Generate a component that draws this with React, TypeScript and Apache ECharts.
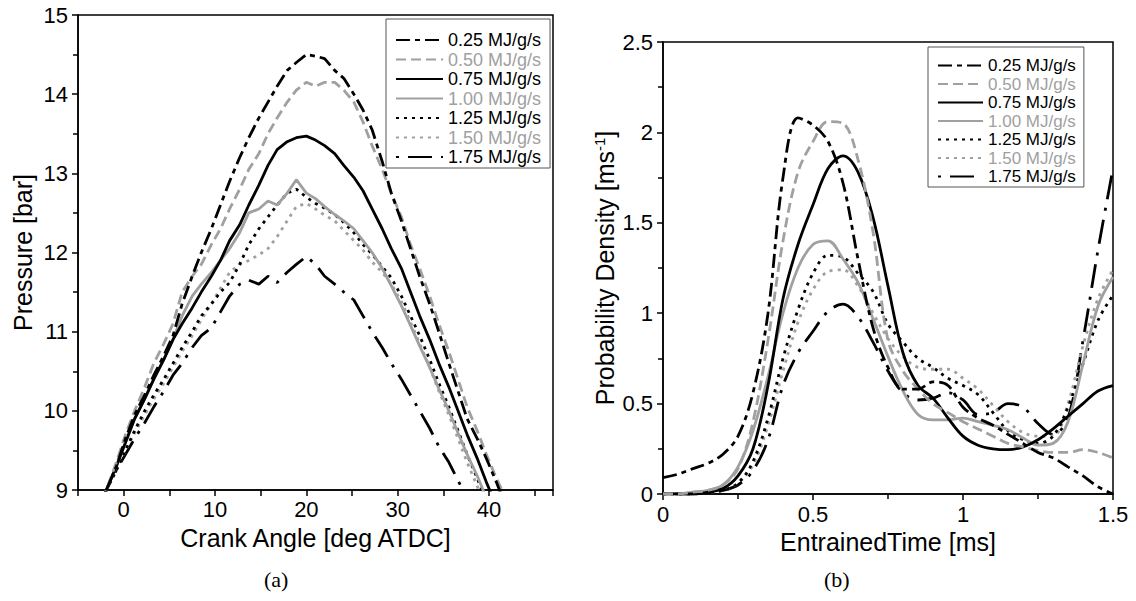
import React, { useEffect, useRef } from 'react';
import * as echarts from 'echarts';

const FONT = '"Liberation Sans", Arial, Helvetica, sans-serif';
const GRAY = '#a0a0a0';

const seriesNames = ['0.25 MJ/g/s', '0.50 MJ/g/s', '0.75 MJ/g/s', '1.00 MJ/g/s', '1.25 MJ/g/s', '1.50 MJ/g/s', '1.75 MJ/g/s'];
const seriesColors = ['#000', GRAY, '#000', GRAY, '#000', GRAY, '#000'];
const seriesDash: any[] = [[14, 5, 5, 5], [10, 5], 'solid', 'solid', [3, 5], [3, 5], [3, 9, 24, 9]];

// (a) Pressure vs crank angle
const crankAngle = [-2.9, -1.9, -0.8, 0.2, 1.2, 2.3, 3.3, 4.4, 5.4, 6.4, 7.5, 8.5, 9.6, 10.6, 11.6, 12.7, 13.7, 14.8, 15.8, 16.8, 17.9, 18.9, 20.0, 21.0, 22.0, 23.1, 24.1, 25.2, 26.2, 27.2, 28.3, 29.3, 30.4, 31.4, 32.4, 33.5, 34.5, 35.6, 36.6, 37.6, 38.7, 39.7, 40.8, 41.8, 42.8];
const pressure025 = [8.7, 9.0, 9.3, 9.65, 9.95, 10.2, 10.45, 10.7, 10.95, 11.35, 11.7, 12.0, 12.3, 12.6, 12.9, 13.2, 13.45, 13.7, 13.9, 14.1, 14.3, 14.4, 14.5, 14.48, 14.45, 14.3, 14.2, 14.0, 13.8, 13.55, 13.15, 12.75, 12.4, 12.05, 11.7, 11.35, 11.0, 10.6, 10.25, 9.9, 9.65, 9.4, 9.1, 8.8, 8.5];
const pressure050 = [8.7, 9.0, 9.35, 9.7, 10.0, 10.3, 10.6, 10.85, 11.1, 11.5, 11.7, 11.85, 12.1, 12.3, 12.55, 12.8, 13.05, 13.25, 13.5, 13.7, 13.9, 14.05, 14.15, 14.1, 14.15, 14.15, 14.05, 13.9, 13.65, 13.35, 13.05, 12.75, 12.45, 12.1, 11.8, 11.45, 11.1, 10.75, 10.4, 10.05, 9.75, 9.45, 9.15, 8.9, 8.6];
const pressure075 = [8.7, 9.0, 9.3, 9.6, 9.9, 10.15, 10.4, 10.65, 10.9, 11.1, 11.3, 11.5, 11.7, 11.9, 12.15, 12.35, 12.6, 12.85, 13.1, 13.3, 13.4, 13.45, 13.47, 13.42, 13.35, 13.25, 13.1, 12.95, 12.78, 12.55, 12.3, 12.05, 11.8, 11.5, 11.2, 10.9, 10.6, 10.3, 10.0, 9.7, 9.4, 9.1, 8.8, 8.5, 8.2];
const pressure100 = [8.7, 9.0, 9.3, 9.6, 9.9, 10.15, 10.4, 10.65, 10.9, 11.2, 11.45, 11.6, 11.75, 11.9, 12.05, 12.25, 12.5, 12.55, 12.65, 12.6, 12.75, 12.92, 12.75, 12.68, 12.58, 12.48, 12.4, 12.3, 12.15, 12.0, 11.8, 11.58, 11.33, 11.08, 10.82, 10.55, 10.28, 10.0, 9.72, 9.45, 9.18, 8.9, 8.65, 8.4, 8.2];
const pressure125 = [8.7, 9.0, 9.25, 9.5, 9.75, 10.0, 10.2, 10.4, 10.6, 10.8, 11.0, 11.2, 11.35, 11.5, 11.62, 11.85, 12.1, 12.3, 12.45, 12.6, 12.75, 12.8, 12.7, 12.62, 12.56, 12.48, 12.38, 12.25, 12.1, 11.98, 11.82, 11.68, 11.45, 11.2, 10.95, 10.65, 10.35, 10.05, 9.75, 9.45, 9.15, 8.85, 8.55, 8.3, 8.0];
const pressure150 = [8.7, 9.0, 9.25, 9.5, 9.72, 9.95, 10.15, 10.35, 10.55, 10.75, 10.95, 11.15, 11.35, 11.55, 11.75, 11.85, 11.9, 11.97, 12.05, 12.2, 12.4, 12.58, 12.62, 12.55, 12.47, 12.4, 12.28, 12.15, 12.03, 11.88, 11.75, 11.6, 11.38, 11.12, 10.85, 10.55, 10.25, 9.95, 9.65, 9.35, 9.05, 8.75, 8.5, 8.25, 8.0];
const pressure175 = [8.7, 9.0, 9.25, 9.45, 9.65, 9.85, 10.05, 10.25, 10.45, 10.6, 10.8, 10.95, 11.05, 11.25, 11.45, 11.6, 11.65, 11.6, 11.7, 11.62, 11.75, 11.85, 11.95, 11.85, 11.7, 11.6, 11.5, 11.4, 11.2, 11.0, 10.8, 10.6, 10.4, 10.2, 10.0, 9.78, 9.55, 9.35, 9.12, 8.9, 8.7, 8.5, 8.3, 8.1, 7.9];

// (b) Probability density vs entrained time
const entrainedTime = [0, 0.05, 0.1, 0.15, 0.2, 0.25, 0.3, 0.35, 0.4, 0.45, 0.5, 0.55, 0.6, 0.65, 0.7, 0.75, 0.8, 0.85, 0.9, 0.95, 1.0, 1.05, 1.1, 1.15, 1.2, 1.25, 1.3, 1.35, 1.4, 1.45, 1.5];
const density025 = [0.09, 0.11, 0.14, 0.17, 0.22, 0.32, 0.56, 1.0, 1.75, 2.08, 2.04, 1.95, 1.72, 1.3, 0.92, 0.7, 0.58, 0.58, 0.62, 0.6, 0.48, 0.42, 0.38, 0.33, 0.28, 0.23, 0.2, 0.15, 0.1, 0.04, 0.0];
const density050 = [0.0, 0.0, 0.01, 0.02, 0.05, 0.14, 0.4, 0.85, 1.4, 1.78, 1.95, 2.06, 2.05, 1.85, 1.45, 0.85, 0.68, 0.58, 0.5, 0.45, 0.4, 0.36, 0.32, 0.28, 0.26, 0.24, 0.23, 0.23, 0.245, 0.23, 0.2];
const density075 = [0.0, 0.0, 0.0, 0.01, 0.03, 0.1, 0.25, 0.6, 1.08, 1.38, 1.6, 1.8, 1.87, 1.78, 1.53, 1.15, 0.78, 0.6, 0.53, 0.42, 0.32, 0.27, 0.25, 0.245, 0.26, 0.3, 0.36, 0.43, 0.5, 0.57, 0.6];
const density100 = [0.0, 0.0, 0.01, 0.02, 0.05, 0.15, 0.35, 0.65, 1.0, 1.25, 1.38, 1.4, 1.3, 1.17, 0.97, 0.76, 0.57, 0.44, 0.41, 0.41, 0.42, 0.4, 0.38, 0.355, 0.31, 0.27, 0.28, 0.4, 0.72, 1.04, 1.2];
const density125 = [0.0, 0.0, 0.0, 0.01, 0.02, 0.06, 0.18, 0.42, 0.75, 1.02, 1.22, 1.32, 1.31, 1.22, 1.12, 0.94, 0.84, 0.75, 0.7, 0.64, 0.6, 0.55, 0.45, 0.35, 0.3, 0.28, 0.32, 0.48, 0.72, 0.96, 1.1];
const density150 = [0.0, 0.0, 0.0, 0.01, 0.02, 0.06, 0.16, 0.38, 0.68, 0.95, 1.13, 1.23, 1.24, 1.15, 1.0, 0.86, 0.76, 0.7, 0.69, 0.69, 0.64, 0.58, 0.49, 0.4, 0.34, 0.32, 0.32, 0.5, 0.82, 1.08, 1.24];
const density175 = [0.0, 0.0, 0.0, 0.01, 0.02, 0.05, 0.13, 0.3, 0.6, 0.78, 0.9, 1.01, 1.05, 0.98, 0.84, 0.68, 0.56, 0.52, 0.53, 0.56, 0.52, 0.44, 0.45, 0.5, 0.48, 0.39, 0.33, 0.42, 0.85, 1.35, 1.8];

const pressureSets = [pressure025, pressure050, pressure075, pressure100, pressure125, pressure150, pressure175];
const densitySets = [density025, density050, density075, density100, density125, density150, density175];

const zip = (xs: number[], ys: number[]) => xs.map((x, i) => [x, ys[i]]);

const axisCommon = {
  axisLine: { show: true, onZero: false, lineStyle: { color: '#000', width: 1.5 } },
  axisTick: { show: true, inside: false, length: 6, lineStyle: { color: '#000', width: 1.5 } },
  splitLine: { show: false },
  nameLocation: 'middle',
  nameTextStyle: { fontSize: 25, color: '#000', fontFamily: FONT },
};
const labelCommon = { fontSize: 22, color: '#000', fontFamily: FONT };
const LINE_W = 2.8;

export default function App() {
  const ref = useRef<HTMLDivElement>(null);
  useEffect(() => {
    const chart = echarts.init(ref.current!, null, { renderer: 'svg' });
    const series: any[] = [];
    seriesNames.forEach((name, i) => {
      series.push({
        name,
        type: 'line',
        xAxisIndex: 0,
        yAxisIndex: 0,
        data: zip(crankAngle, pressureSets[i]),
        symbol: 'none',
        lineStyle: { color: seriesColors[i], width: LINE_W, type: seriesDash[i] },
        itemStyle: { color: seriesColors[i] },
        z: 10 - i,
      });
    });
    seriesNames.forEach((name, i) => {
      series.push({
        name,
        type: 'line',
        xAxisIndex: 1,
        yAxisIndex: 1,
        data: zip(entrainedTime, densitySets[i]),
        symbol: 'none',
        smooth: 0.35,
        lineStyle: { color: seriesColors[i], width: LINE_W, type: seriesDash[i] },
        itemStyle: { color: seriesColors[i] },
        z: 10 - i,
      });
    });
    const legendData = seriesNames.map((n, i) => ({ name: n, textStyle: { color: seriesColors[i] } }));
    const legendCommon = {
      orient: 'vertical',
      align: 'left',
      itemHeight: 12,
      itemGap: 1.5,
      borderColor: '#555',
      borderWidth: 1,
      backgroundColor: '#fff',
      selectedMode: false,
      itemStyle: { opacity: 0, borderWidth: 0 },
      data: legendData,
    };
    const option: any = {
      animation: false,
      backgroundColor: '#fff',
      grid: [
        { left: 78, top: 15, width: 475, height: 475, show: true, borderColor: '#000', borderWidth: 1.5, backgroundColor: 'transparent' },
        { left: 663, top: 42, width: 450, height: 452, show: true, borderColor: '#000', borderWidth: 1.5, backgroundColor: 'transparent' },
      ],
      xAxis: [
        {
          ...axisCommon,
          gridIndex: 0,
          type: 'value',
          min: -5,
          max: 47,
          interval: 5,
          axisLabel: { ...labelCommon, margin: 8, formatter: (v: number) => (v % 10 === 0 ? String(v) : '') },
          name: 'Crank Angle [deg ATDC]',
          nameGap: 35,
        },
        {
          ...axisCommon,
          gridIndex: 1,
          type: 'value',
          min: 0,
          max: 1.5,
          interval: 0.5,
          minorTick: { show: true, splitNumber: 2, length: 5, lineStyle: { color: '#000', width: 1.5 } },
          axisLabel: { ...labelCommon, margin: 9 },
          name: 'EntrainedTime [ms]',
          nameGap: 33,
        },
      ],
      yAxis: [
        {
          ...axisCommon,
          gridIndex: 0,
          type: 'value',
          min: 9,
          max: 15,
          interval: 1,
          minorTick: { show: true, splitNumber: 2, length: 5, lineStyle: { color: '#000', width: 1.5 } },
          axisLabel: { ...labelCommon, margin: 10 },
          name: 'Pressure [bar]',
          nameGap: 43,
        },
        {
          ...axisCommon,
          gridIndex: 1,
          type: 'value',
          min: 0,
          max: 2.5,
          interval: 0.5,
          minorTick: { show: true, splitNumber: 2, length: 5, lineStyle: { color: '#000', width: 1.5 } },
          axisLabel: { ...labelCommon, margin: 10 },
          name: 'Probability Density [ms{sup|-1}]',
          nameGap: 46,
          nameTextStyle: {
            fontSize: 25,
            color: '#000',
            fontFamily: FONT,
            rich: { sup: { fontSize: 15, fontFamily: FONT, color: '#000', verticalAlign: 'top', lineHeight: 25 } },
          },
        },
      ],
      legend: [
        {
          ...legendCommon,
          left: 386,
          top: 19,
          itemWidth: 47,
          padding: [12, 9, 2, 9],
          textStyle: { fontSize: 18, fontFamily: FONT },
        },
        {
          ...legendCommon,
          left: 928,
          top: 47,
          itemWidth: 45,
          padding: [10, 8, 2, 9],
          textStyle: { fontSize: 17, fontFamily: FONT },
        },
      ],
      graphic: [
        { type: 'text', left: 264, top: 568, style: { text: '(a)', fontSize: 22, fontFamily: '"Liberation Serif", "Times New Roman", serif', fill: '#000' } },
        { type: 'text', left: 824, top: 568, style: { text: '(b)', fontSize: 22, fontFamily: '"Liberation Serif", "Times New Roman", serif', fill: '#000' } },
      ],
      series,
    };
    chart.setOption(option);
    return () => chart.dispose();
  }, []);
  return <div ref={ref} style={{ position: 'fixed', left: 0, top: 0, width: 1136, height: 601, background: '#fff' }} />;
}
